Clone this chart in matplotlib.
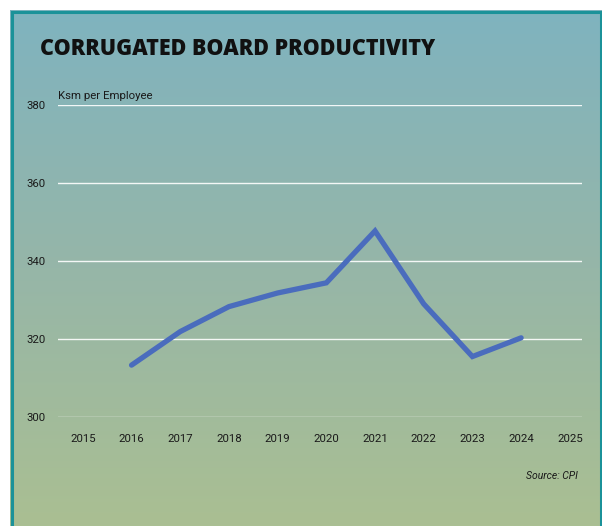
import numpy as np
import matplotlib
matplotlib.use("Agg")
import matplotlib.pyplot as plt
from matplotlib.colors import LinearSegmentedColormap

years = [2016, 2017, 2018, 2019, 2020, 2021, 2022, 2023, 2024]
ksm_per_employee = [313.3, 321.9, 328.3, 331.8, 334.4, 347.7, 329.0, 315.5, 320.3]
x_ticks = [2015, 2016, 2017, 2018, 2019, 2020, 2021, 2022, 2023, 2024, 2025]
y_ticks = [300, 320, 340, 360, 380]

W, H = 602, 526
fig = plt.figure(figsize=(W / 100, H / 100), dpi=100)
fig.patch.set_facecolor("white")

def px(x0, y0, x1, y1):
    # pixel box (top-left origin) -> figure fraction rect
    return [x0 / W, 1 - y1 / H, (x1 - x0) / W, (y1 - y0) / H]

# gradient panel
bg = fig.add_axes(px(10, 10, 602, 526))
bg.set_axis_off()
cmap = LinearSegmentedColormap.from_list("panel", ["#7fb3bf", "#96b6a8", "#aabf92"])
grad = np.linspace(0, 1, 256).reshape(-1, 1)
bg.imshow(grad, aspect="auto", cmap=cmap, extent=[0, 1, 0, 1], origin="upper")
bg.set_xlim(0, 1)
bg.set_ylim(0, 1)

# frame border (left, top, right)
border = "#1b9299"
lw_b = 2.2
fig.add_artist(plt.Line2D([11.5 / W, 11.5 / W], [0, 1 - 11.5 / H], color=border, lw=lw_b, transform=fig.transFigure))
fig.add_artist(plt.Line2D([11.5 / W, 1], [1 - 11.5 / H, 1 - 11.5 / H], color=border, lw=lw_b, transform=fig.transFigure))
fig.add_artist(plt.Line2D([600.5 / W, 600.5 / W], [0, 1 - 11.5 / H], color=border, lw=lw_b, transform=fig.transFigure))

ax = fig.add_axes(px(58, 105, 582, 417))
ax.patch.set_alpha(0)
for s in ax.spines.values():
    s.set_visible(False)

ax.set_xlim(2014.49, 2025.25)
ax.set_ylim(300, 380)
ax.set_yticks(y_ticks)
ax.set_xticks(x_ticks)
ax.grid(axis="y", color="white", lw=1.0, alpha=0.9)
ax.set_axisbelow(True)

font = ["Roboto", "DejaVu Sans"]
ax.tick_params(length=0)
ax.tick_params(axis="x", pad=12)
ax.tick_params(axis="y", pad=9)
for lab in ax.get_xticklabels() + ax.get_yticklabels():
    lab.set_fontfamily(font)
    lab.set_fontsize(8.2)
    lab.set_color("#1a1a1a")

ax.plot(years, ksm_per_employee, color="#4a6cbd", lw=3.8, solid_capstyle="round", solid_joinstyle="miter")

ax.text(0, 1.014, "Ksm per Employee", transform=ax.transAxes, ha="left", va="bottom",
        fontsize=8.2, family=font, color="#1a1a1a")

fig.text(40 / W, 1 - 49 / H, "CORRUGATED BOARD PRODUCTIVITY", ha="left", va="center",
         fontsize=15.5, fontweight="heavy", family=["Open Sans", "DejaVu Sans"], color="#111111")

fig.text(578 / W, 1 - 476 / H, "Source: CPI", ha="right", va="center",
         fontsize=7.5, style="italic", family=font, color="#1a1a1a")

fig.savefig("out.png", dpi=100)
